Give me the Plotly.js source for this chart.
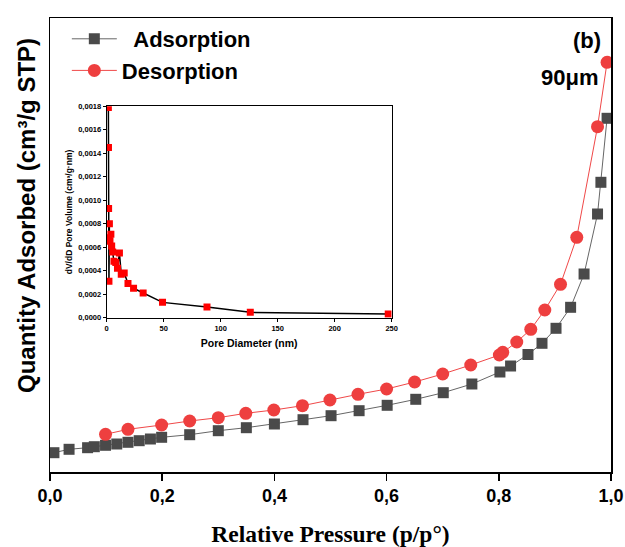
<!DOCTYPE html>
<html>
<head>
<meta charset="utf-8">
<script src="https://cdn.plot.ly/plotly-3.0.1.min.js"></script>
<style>html,body{margin:0;padding:0;background:#fff;}#plot{width:625px;height:547px;}</style>
</head>
<body>
<div id="plot"></div>
<script>
// Adsorption branch (relative pressure, quantity adsorbed - arbitrary units)
var adsP = [0.007, 0.034, 0.067, 0.079, 0.099, 0.119, 0.139, 0.159, 0.179, 0.199, 0.249, 0.300, 0.350, 0.400, 0.451, 0.501, 0.551, 0.601, 0.652, 0.701, 0.752, 0.802, 0.821, 0.852, 0.877, 0.902, 0.928, 0.952, 0.976, 0.982, 0.993];
var adsQ = [1.93, 2.27, 2.43, 2.53, 2.67, 2.80, 2.97, 3.13, 3.30, 3.47, 3.73, 4.13, 4.43, 4.80, 5.23, 5.63, 6.13, 6.67, 7.27, 7.93, 8.80, 10.0, 10.6, 11.75, 12.87, 14.37, 16.47, 19.8, 25.8, 28.97, 35.37];
// Desorption branch
var desP = [0.993, 0.976, 0.939, 0.910, 0.882, 0.857, 0.832, 0.807, 0.801, 0.750, 0.700, 0.650, 0.600, 0.549, 0.499, 0.450, 0.399, 0.349, 0.300, 0.249, 0.199, 0.139, 0.099];
var desQ = [40.97, 34.53, 23.47, 18.77, 16.2, 14.27, 13.0, 11.97, 11.7, 10.7, 9.8, 9.0, 8.3, 7.77, 7.2, 6.63, 6.2, 5.87, 5.43, 5.1, 4.7, 4.27, 3.77];
// Inset: pore size distribution
var poreD = [1.5, 1.6, 1.7, 2.0, 2.4, 2.2, 2.9, 3.7, 4.4, 5.3, 6.4, 8.0, 9.5, 11.2, 12.8, 15.4, 18.7, 23.6, 32.0, 49.0, 88.0, 126.0, 247.0];
var poreV = [0.00179, 0.00145, 0.00093, 0.00031, 0.00080, 0.00068, 0.00065, 0.00071, 0.00061, 0.00056, 0.00048, 0.00047, 0.00042, 0.00055, 0.00037, 0.00038, 0.00029, 0.00025, 0.00021, 0.00013, 0.00009, 0.000045, 0.00003];
var xTicks = [0, 0.2, 0.4, 0.6, 0.8, 1.0];

var SANS = 'Liberation Sans, Arial, sans-serif';
var SERIF = 'Liberation Serif, Times New Roman, serif';

var traces = [
  {x: adsP, y: adsQ, name: '  Adsorption', mode: 'lines+markers', type: 'scatter',
   line: {color: '#666666', width: 1}, marker: {symbol: 'square', size: 11, color: '#4a4a4a'}},
  {x: desP, y: desQ, name: 'Desorption', mode: 'lines+markers', type: 'scatter',
   line: {color: '#f04848', width: 1}, marker: {symbol: 'circle', size: 13, color: '#ee3f3f'}},
  {x: poreD, y: poreV, xaxis: 'x2', yaxis: 'y2', mode: 'lines+markers', type: 'scatter', showlegend: false,
   line: {color: '#000000', width: 1.5}, marker: {symbol: 'square', size: 7, color: '#ff0000'}}
];

var layout = {
  width: 625, height: 547,
  margin: {l: 50, r: 14, t: 18, b: 75},
  paper_bgcolor: '#fff', plot_bgcolor: '#fff',
  separators: ',.',
  showlegend: true,
  legend: {x: 0.03, y: 1.0, xanchor: 'left', yanchor: 'top', bgcolor: 'rgba(0,0,0,0)', itemwidth: 45,
    font: {family: SANS, size: 22, color: '#000', weight: 'bold'}},
  xaxis: {range: [0, 1], tickvals: xTicks, tickformat: '.1f', showgrid: false, zeroline: false,
    showline: true, linecolor: '#000', linewidth: 1.5, mirror: true,
    ticks: 'outside', ticklen: 7, tickwidth: 1.5, tickcolor: '#000',
    tickfont: {family: SANS, size: 18, color: '#000', weight: 'bold'},
    title: {text: '<b>Relative Pressure (p/p°)</b>', font: {family: SERIF, size: 23.5, color: '#000'}, standoff: 20}},
  yaxis: {range: [0, 45.4], showticklabels: false, ticks: '', showgrid: false, zeroline: false,
    showline: true, linecolor: '#000', linewidth: 1.5, mirror: true},
  xaxis2: {domain: [0.101, 0.609], anchor: 'y2', range: [0, 250], dtick: 50, tick0: 0,
    showgrid: false, zeroline: false, showline: true, linecolor: '#000', linewidth: 1, mirror: true,
    ticks: 'outside', ticklen: 3, tickwidth: 1, tickcolor: '#000',
    tickfont: {family: SANS, size: 7.5, color: '#000', weight: 'bold'},
    title: {text: '<b>Pore Diameter (nm)</b>', font: {family: SANS, size: 10.5, color: '#000'}, standoff: 8}},
  yaxis2: {domain: [0.340, 0.8055], anchor: 'x2', range: [0, 0.0018], dtick: 0.0002, tick0: 0, tickformat: '.4f',
    showgrid: false, zeroline: false, showline: true, linecolor: '#000', linewidth: 1, mirror: true,
    ticks: 'outside', ticklen: 3, tickwidth: 1, tickcolor: '#000',
    tickfont: {family: SANS, size: 7.5, color: '#000', weight: 'bold'},
    title: {text: '<b>dV/dD Pore Volume (cm³/g·nm)</b>', font: {family: SANS, size: 8.5, color: '#000'}, standoff: 4}},
  annotations: [
    {text: '<b>Quantity Adsorbed (cm³/g STP)</b>', xref: 'paper', yref: 'paper', x: -0.0428, y: 0.566,
     xanchor: 'center', yanchor: 'middle', textangle: -90, showarrow: false,
     font: {family: SANS, size: 24, color: '#000'}},
    {text: '<b>(b)</b>', xref: 'paper', yref: 'paper', x: 0.957, y: 0.9515, xanchor: 'center', yanchor: 'middle', showarrow: false,
     font: {family: SANS, size: 22, color: '#000'}},
    {text: '<b>90μm</b>', xref: 'paper', yref: 'paper', x: 0.927, y: 0.870, xanchor: 'center', yanchor: 'middle', showarrow: false,
     font: {family: SANS, size: 22, color: '#000'}}
  ]
};

Plotly.newPlot('plot', traces, layout, {displayModeBar: false, staticPlot: true});
</script>
</body>
</html>
